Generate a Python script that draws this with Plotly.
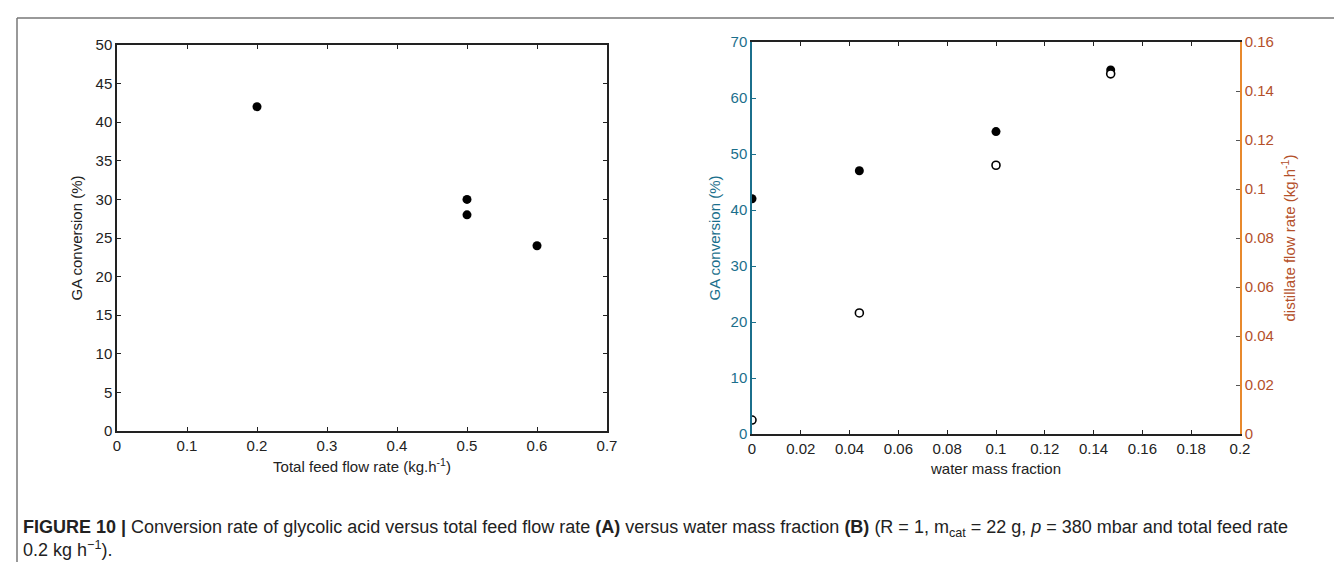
import plotly.graph_objects as go

# panel A: conversion vs total feed flow rate
feed_rate = [0.2, 0.5, 0.5, 0.6]
conv_a = [42, 30, 28, 24]

# panel B: conversion and distillate flow vs water mass fraction
water_frac = [0.0, 0.044, 0.1, 0.147]
conv_b = [42, 47, 54, 65]
distillate = [0.0057, 0.0494, 0.1097, 0.147]

W, H = 1342, 562
TEAL = "#1b6f8c"
BROWN = "#b4502a"
ORANGE = "#e8892c"
FONT = "Liberation Sans, Arial, sans-serif"


def px(x):
    return x / W


def py(y):
    return 1 - y / H


fig = go.Figure()

fig.add_trace(go.Scatter(
    x=feed_rate, y=conv_a, mode="markers",
    marker=dict(color="black", size=9), xaxis="x", yaxis="y",
    showlegend=False,
))
fig.add_trace(go.Scatter(
    x=water_frac, y=conv_b, mode="markers",
    marker=dict(color="black", size=9), xaxis="x2", yaxis="y2",
    showlegend=False,
))
fig.add_trace(go.Scatter(
    x=water_frac, y=distillate, mode="markers",
    marker=dict(color="white", size=8, line=dict(color="black", width=1.6)),
    xaxis="x2", yaxis="y3", showlegend=False,
))

tick_font = dict(family=FONT, size=15, color="#222")
common = dict(showgrid=False, zeroline=False, showline=True, ticks="inside",
              ticklen=4, automargin=False, tickfont=tick_font)

fig.update_layout(
    width=W, height=H,
    margin=dict(l=0, r=0, t=0, b=0),
    paper_bgcolor="white", plot_bgcolor="white",
    font=dict(family=FONT, color="#222"),
    xaxis=dict(domain=[px(109), px(599)], range=[0, 0.7], dtick=0.1,
               linecolor="#222", linewidth=1.5, mirror="ticks", anchor="y",
               tickcolor="#222",
               title=dict(text="Total feed flow rate (kg.h<sup>-1</sup>)",
                          font=dict(size=15, color="#222"), standoff=9),
               **common),
    yaxis=dict(domain=[py(423), py(37)], range=[0, 50], dtick=5,
               linecolor="#222", linewidth=1.5, mirror="ticks", anchor="x",
               tickcolor="#222",
               title=dict(text="GA conversion (%)",
                          font=dict(size=15, color="#222"), standoff=9),
               **common),
    xaxis2=dict(domain=[px(744), px(1232)], range=[0, 0.2], dtick=0.02,
                linecolor="#222", linewidth=1.5, mirror="ticks", anchor="y2",
                tickcolor="#222",
                title=dict(text="water mass fraction",
                           font=dict(size=15, color="#222"), standoff=8),
                **common),
    yaxis2=dict(domain=[py(426), py(34)], range=[0, 70], dtick=10,
                linecolor=TEAL, linewidth=1.5, anchor="x2",
                tickcolor=TEAL,
                title=dict(text="GA conversion (%)",
                           font=dict(size=15, color=TEAL), standoff=6),
                **{**common, "tickfont": dict(family=FONT, size=15, color=TEAL)}),
    yaxis3=dict(range=[0, 0.16], dtick=0.02, overlaying="y2", side="right",
                anchor="x2", linecolor=ORANGE, linewidth=1.5,
                tickcolor="#555", tickformat="~g",
                title=dict(text="distillate flow rate (kg.h<sup>-1</sup>)",
                           font=dict(size=15, color=BROWN), standoff=12),
                **{**common, "tickfont": dict(family=FONT, size=15, color=BROWN)}),
)

# figure frame lines (top and left)
fig.add_shape(type="line", xref="paper", yref="paper",
              x0=px(9), x1=1, y0=py(10), y1=py(10),
              line=dict(color="#777", width=1.5))
fig.add_shape(type="line", xref="paper", yref="paper",
              x0=px(9), x1=px(9), y0=py(10), y1=0,
              line=dict(color="#777", width=1.5))

caption = ("<b>FIGURE 10 |</b> Conversion rate of glycolic acid versus total feed flow rate "
           "<b>(A)</b> versus water mass fraction <b>(B)</b> (R = 1, m<sub>cat</sub> = 22 g, "
           "<i>p</i> = 380 mbar and total feed rate<br>0.2 kg h<sup>−1</sup>).")
fig.add_annotation(
    text=caption, xref="paper", yref="paper", x=px(13), y=py(507),
    xanchor="left", yanchor="top", align="left", showarrow=False,
    font=dict(family=FONT, size=18, color="#222"),
)

fig.write_html("out.html")
